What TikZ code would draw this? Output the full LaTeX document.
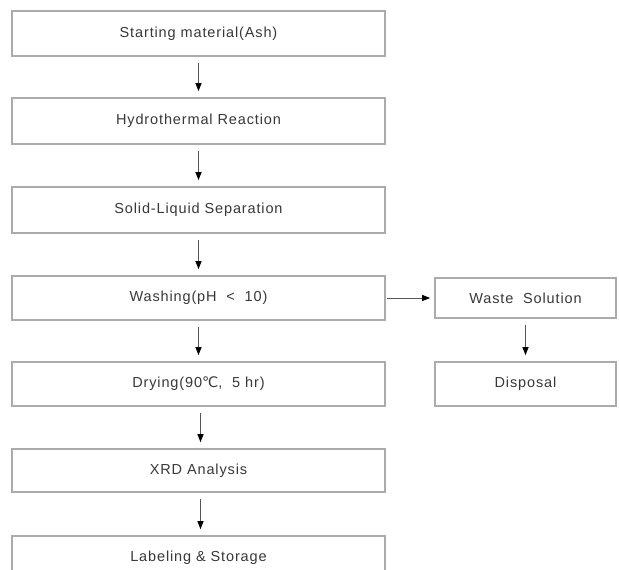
\documentclass[tikz,border=0pt]{standalone}
\usepackage{fontspec}
\setmainfont{Liberation Sans}[LetterSpace=6]
\newfontfamily\symfont{DejaVu Sans}
\usetikzlibrary{arrows.meta}
\definecolor{boxline}{HTML}{ABABAB}
\definecolor{txt}{HTML}{383838}
\definecolor{arr}{HTML}{555555}
\tikzset{
  stepbox/.style={draw=boxline, line width=1.6pt, fill=white, minimum height=45pt, inner sep=0pt, text=txt, font=\fontsize{14.5}{17}\selectfont},
  mainbox/.style={stepbox, minimum width=373pt},
  sidebox/.style={stepbox, minimum width=181pt},
  flow/.style={draw=arr, line width=1pt, -{Triangle[length=8pt,width=6pt,color=black]}, shorten <=6pt, shorten >=6pt}
}
\begin{document}
\begin{tikzpicture}[x=1pt,y=-1pt]
\useasboundingbox (0,0) rectangle (619,570);
\clip (0,0) rectangle (619,570);
\node[mainbox] (s1) at (198.5,33.5) {Starting material(Ash)};
\node[mainbox, minimum height=46pt] (s2) at (198.5,121) {Hydrothermal Reaction};
\node[mainbox, minimum height=46pt] (s3) at (198.5,210) {Solid-Liquid Separation};
\node[mainbox, minimum height=44pt] (s4) at (198.5,298) {Washing(pH \ < \ 10)};
\node[sidebox, minimum height=40pt] (w1) at (525.5,298) {Waste \ Solution};
\node[sidebox, minimum height=44pt] (w2) at (525.5,384) {Disposal};
\node[mainbox, minimum height=44pt] (s5) at (198.5,384) {Drying(90{\symfont ℃}, \ 5 hr)};
\node[mainbox, minimum height=43pt] (s6) at (198.5,470.5) {XRD Analysis};
\node[mainbox, minimum height=44pt] (s7) at (198.5,558) {Labeling \& Storage};
\draw[flow] (s1.south) -- (s2.north);
\draw[flow] (s2.south) -- (s3.north);
\draw[flow] (s3.south) -- (s4.north);
\draw[flow] (s4.south) -- (s5.north);
\draw[flow] ([xshift=2pt]s5.south) -- ([xshift=2pt]s6.north);
\draw[flow] ([xshift=2pt]s6.south) -- ([xshift=2pt]s7.north);
\draw[flow, shorten <=1pt, shorten >=4pt] (s4.east) -- (w1.west);
\draw[flow] (w1.south) -- (w2.north);
\end{tikzpicture}
\end{document}
